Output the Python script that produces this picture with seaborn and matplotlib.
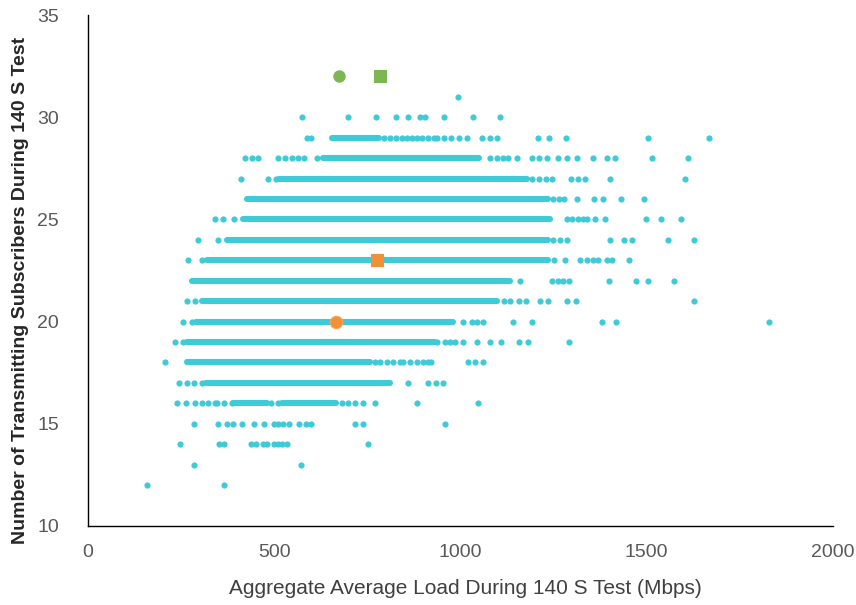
import numpy as np
import pandas as pd
import matplotlib.pyplot as plt
import seaborn as sns

# --- data --------------------------------------------------------------
# isolated / sparse points, one list per subscriber count (Mbps)
x_at_12 = [158, 365]
x_at_13 = [285, 571]
x_at_14 = [247, 351, 365, 437, 450, 469, 481, 499, 511, 522, 533, 751]
x_at_15 = [285, 348, 372, 390, 413, 446, 472, 499, 511, 523, 540, 566, 584, 600, 717, 739, 958]
x_at_16 = [238, 263, 287, 305, 323, 341, 347, 366, 386, 490, 511, 681, 699, 717, 739, 770, 882, 1047]
x_at_17 = [245, 265, 285, 305, 858, 914, 934, 954]
x_at_18 = [207, 770, 784, 802, 820, 838, 847, 865, 882, 900, 912, 922, 1019, 1039, 1061]
x_at_19 = [234, 256, 936, 958, 972, 985, 1006, 1043, 1079, 1110, 1158, 1182, 1291]
x_at_20 = [256, 278, 1008, 1030, 1045, 1061, 1140, 1192, 1379, 1417, 1827]
x_at_21 = [267, 287, 1117, 1133, 1158, 1176, 1213, 1236, 1285, 1310, 1628]
x_at_22 = [1160, 1247, 1262, 1276, 1291, 1399, 1471, 1503, 1573]
x_at_23 = [268, 306, 1251, 1280, 1321, 1340, 1357, 1370, 1392, 1406, 1452]
x_at_24 = [295, 349, 1249, 1267, 1285, 1401, 1439, 1460, 1556, 1628]
x_at_25 = [341, 363, 392, 1285, 1300, 1315, 1330, 1339, 1361, 1388, 1498, 1537, 1592]
x_at_26 = [1249, 1264, 1278, 1312, 1358, 1382, 1430, 1493]
x_at_27 = [411, 482, 506, 1191, 1210, 1229, 1247, 1296, 1316, 1333, 1401, 1604]
x_at_28 = [421, 439, 457, 511, 529, 547, 565, 581, 614, 1079, 1099, 1114, 1128, 1151,
           1191, 1211, 1231, 1263, 1285, 1312, 1357, 1392, 1415, 1514, 1610]
x_at_29 = [587, 600, 795, 811, 827, 842, 856, 869, 882, 898, 913, 929, 938, 956, 974,
           997, 1018, 1058, 1078, 1097, 1207, 1238, 1282, 1503, 1666]
x_at_30 = [574, 697, 772, 826, 858, 891, 905, 955, 1033, 1105]
x_at_31 = [992]

# stretches where the points overlap into a solid run
seg_y = [16, 16, 17, 18, 19, 20, 21, 22, 23, 24, 25, 26, 27, 28, 29]
seg_x0 = [390, 520, 317, 265, 267, 290, 305, 278, 319, 372, 417, 426, 514, 630, 654]
seg_x1 = [481, 667, 811, 757, 932, 979, 1097, 1133, 1236, 1236, 1240, 1236, 1178, 1050, 782]

# highlighted tests
hl_x = [675, 785, 775, 665]
hl_y = [32, 32, 23, 20]
hl_kind = ['green circle', 'green square', 'orange square', 'orange circle']

rows = {12: x_at_12, 13: x_at_13, 14: x_at_14, 15: x_at_15, 16: x_at_16, 17: x_at_17,
        18: x_at_18, 19: x_at_19, 20: x_at_20, 21: x_at_21, 22: x_at_22, 23: x_at_23,
        24: x_at_24, 25: x_at_25, 26: x_at_26, 27: x_at_27, 28: x_at_28, 29: x_at_29,
        30: x_at_30, 31: x_at_31}
dots = pd.DataFrame([(x, y) for y, xs in rows.items() for x in xs], columns=['load', 'subs'])

teal = '#3ECAD7'
orange = '#F0913A'
green = '#7DB653'

sns.set_style('white')
plt.rcParams['font.family'] = ['Liberation Sans', 'DejaVu Sans']

fig = plt.figure(figsize=(8.56, 6.05), dpi=100)
ax = fig.add_axes([0.1028, 0.1306, 0.8703, 0.8446])

lc = ax.hlines(seg_y, seg_x0, seg_x1, color=teal, linewidth=4.4, zorder=2)
lc.set_capstyle('round')
sns.scatterplot(data=dots, x='load', y='subs', color=teal, s=20, linewidth=0, ax=ax, zorder=3)

for x, y, kind in zip(hl_x, hl_y, hl_kind):
    col = green if kind.startswith('green') else orange
    mk = 'o' if kind.endswith('circle') else 's'
    edge = '#F6A65A' if kind == 'orange circle' else col
    size = 80 if kind == 'orange circle' else 66
    ax.scatter([x], [y], marker=mk, s=size, color=col, edgecolor=edge, linewidth=0.8, zorder=4)

ax.set_xlim(0, 2000)
ax.set_ylim(10, 35)
ax.set_xticks([0, 500, 1000, 1500, 2000])
ax.set_yticks([10, 15, 20, 25, 30, 35])
ax.tick_params(axis='both', length=0, labelsize=14, labelcolor='#595959')
ax.tick_params(axis='y', pad=21)
ax.tick_params(axis='x', pad=13)

for side in ['top', 'right']:
    ax.spines[side].set_visible(False)
for side in ['left', 'bottom']:
    ax.spines[side].set_color('#000000')
    ax.spines[side].set_linewidth(1.0)

ax.set_xlabel('Aggregate Average Load During 140 S Test (Mbps)', fontsize=15, color='#404040')
ax.set_ylabel('Number of Transmitting Subscribers During 140 S Test', fontsize=14, fontweight='bold',
              color='#262626')
ax.xaxis.set_label_coords(0.506, -0.104)
ax.yaxis.set_label_coords(-0.079, 0.46)

fig.savefig('out.png', dpi=100)
